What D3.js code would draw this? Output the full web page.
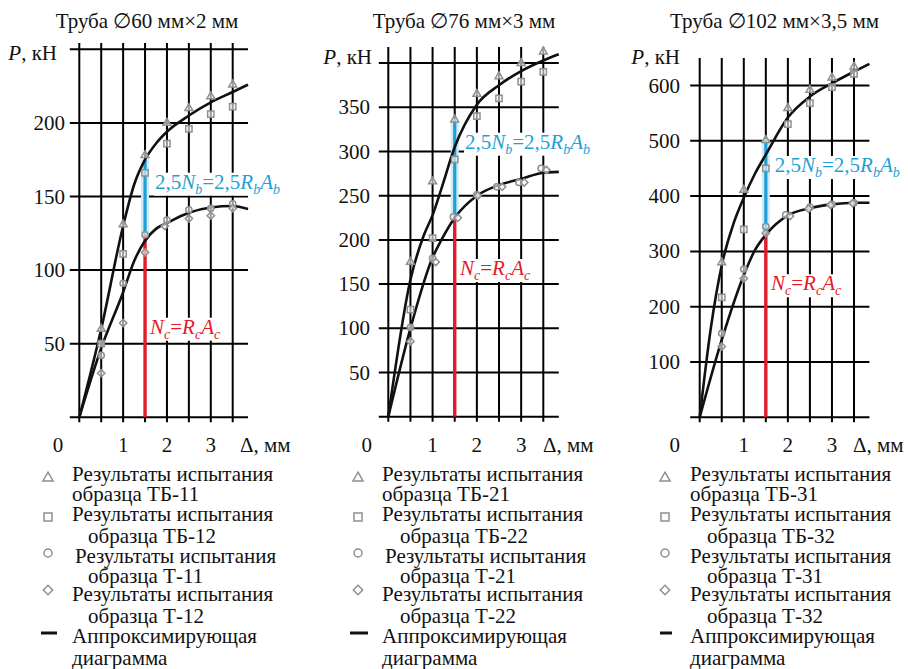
<!DOCTYPE html>
<html><head><meta charset="utf-8">
<script src="https://cdn.jsdelivr.net/npm/d3@7"></script>
<style>
body{margin:0;background:#fff}
svg{display:block}
</style>
</head><body>
<svg id="c" width="908" height="669" font-family="Liberation Serif"></svg>
<script>
// ---------------- DATA ----------------
const titles = ["Труба \u220560 мм\u00d72 мм", "Труба \u220576 мм\u00d73 мм", "Труба \u2205102 мм\u00d73,5 мм"];
const xGridValues = [0, 0.5, 1, 1.5, 2, 2.5, 3, 3.5];
const xTickValues = [0, 1, 2, 3];
const xAxisLabel = "\u0394, мм";
const yAxisUnit = ", кН";

const yGrid1 = [0, 50, 100, 150, 200, 250];
const yTicks1 = [50, 100, 150, 200];
const yGrid2 = [0, 50, 100, 150, 200, 250, 300, 350, 400];
const yTicks2 = [50, 100, 150, 200, 250, 300, 350];
const yGrid3 = [0, 100, 200, 300, 400, 500, 600];
const yTicks3 = [100, 200, 300, 400, 500, 600];

// approximating curves  [Δ, P]
const upper1 = [[0,0],[0.5,60],[1,130],[1.25,158],[1.5,175],[1.75,186],[2,194],[2.5,205],[3,214],[3.5,221],[3.85,226]];
const lower1 = [[0,0],[0.5,47],[1,85],[1.25,106],[1.5,120],[1.75,128],[2,132],[2.5,139],[3,142.5],[3.5,143.5],[3.85,141.5]];
const upper2 = [[0,0],[0.5,155],[0.8,205],[1,228],[1.2,258],[1.5,305],[2,353],[2.5,375],[3,391],[3.5,403],[3.85,410]];
const lower2 = [[0,0],[0.5,100],[1,180],[1.2,200],[1.5,225],[2,250],[2.5,262],[3,269],[3.5,276],[3.85,277]];
const upper3 = [[0,0],[0.25,160],[0.5,275],[0.77,351],[1,397],[1.25,440],[1.5,475],[2,542],[2.5,580],[3,604],[3.5,625],[3.85,639]];
const lower3 = [[0,0],[0.5,140],[1,257],[1.25,302],[1.5,330],[2,365],[2.5,378],[3,385],[3.5,388],[3.85,388]];

// test results  [Δ, P]
const tri1 = [[0.5,60],[1,131],[1.5,178],[2,200],[2.5,210],[3,218],[3.5,226]];
const sq1  = [[0.5,50],[1,111],[1.5,166],[2,186],[2.5,196],[3,206],[3.5,211]];
const circ1 = [[0.5,42],[1,91],[1.5,124],[2,134],[2.5,141],[3,142],[3.5,145]];
const dia1 = [[0.5,30],[1,64],[1.5,112],[1.95,130],[2.5,135],[3,137],[3.5,142]];

const tri2 = [[0.5,175],[1,266],[1.5,336],[2,365],[2.5,385],[3,400],[3.5,413]];
const sq2  = [[0.5,121],[1,202],[1.5,291],[2,340],[2.5,360],[3,379],[3.5,390]];
const circ2 = [[0.5,101],[1,179],[1.47,226],[2,251],[2.45,260],[2.95,265],[3.45,281]];
const dia2 = [[0.5,85],[1.07,175],[1.57,225],[2.02,250],[2.57,260],[3.07,265],[3.57,279]];

const tri3 = [[0.5,280],[1,411],[1.5,501],[2,559],[2.5,592],[3,614],[3.5,634]];
const sq3  = [[0.5,217],[1,340],[1.5,450],[2,530],[2.5,568],[3,597],[3.5,621]];
const circ3 = [[0.5,152],[1,268],[1.5,345],[1.95,366],[2.5,380],[3,385],[3.5,388]];
const dia3 = [[0.5,128],[1,251],[1.5,333],[2.05,364],[2.47,377],[2.97,384],[3.47,387]];

// limit lines at Δ = 1.5 mm
const limitDelta = 1.5;
const ncValues = [124, 226, 331];      // N_c = R_c A_c
const nbValues = [175, 336, 503];      // 2,5 N_b = 2,5 R_b A_b

// legend
const specTB1 = ["ТБ-11", "ТБ-21", "ТБ-31"];
const specTB2 = ["ТБ-12", "ТБ-22", "ТБ-32"];
const specT1 = ["Т-11", "Т-21", "Т-31"];
const specT2 = ["Т-12", "Т-22", "Т-32"];
const legendResult = "Результаты испытания";
const legendSample = "образца ";
const legendApprox = ["Аппроксимирующая", "диаграмма"];

// ---------------- LAYOUT ----------------
const layout = [
  {x0:79.3, x35:232.7, y0:417.3, yMax:250, yMaxPx:49.3, vTop:43, titleX:147, tickR:65, pR:57, pY:53, zeroX:58, deltaX:240,
   blue:[155,181.7], red:[150,326.7], leg:{mx:48, tx:72, ix:88, t3:3, dash:[41,57]}},
  {x0:388.3, x35:543.3, y0:416.7, yMax:400, yMaxPx:63.1, vTop:47, titleX:464, tickR:370, pR:372, pY:57, zeroX:366.7, deltaX:543,
   blue:[465,141.7], red:[460,268], leg:{mx:358, tx:382, ix:400, t3:3, dash:[350,368]}},
  {x0:699.7, x35:854, y0:417.3, yMax:600, yMaxPx:85.5, vTop:58, titleX:774.5, tickR:680, pR:680, pY:57, zeroX:674.7, deltaX:853,
   blue:[774.7,165], red:[771,283.3], leg:{mx:665, tx:690, ix:707, t3:0, dash:[660,672]}}
];
const grids = [yGrid1, yGrid2, yGrid3];
const ticks = [yTicks1, yTicks2, yTicks3];
const uppers = [upper1, upper2, upper3];
const lowers = [lower1, lower2, lower3];
const pts = [[tri1,sq1,circ1,dia1],[tri2,sq2,circ2,dia2],[tri3,sq3,circ3,dia3]];

const svg = d3.select("#c");
const FS = 21;
const TXT = "#111";
const BLUE = "#1f9fd5", RED = "#e31b2a", GRAY = "#8f8f8f";

function txt(g, x, y, s) {
  return g.append("text").attr("x", x).attr("y", y).attr("font-size", FS)
    .attr("font-family", "Liberation Serif").attr("fill", TXT).text(s);
}

function marker(g, type, x, y, s) {
  let path;
  if (type === 0) path = d3.symbol(d3.symbolTriangle, s*s*0.55)();
  else if (type === 1) path = d3.symbol(d3.symbolSquare, s*s*0.8)();
  else if (type === 2) path = d3.symbol(d3.symbolCircle, s*s*0.62)();
  else path = d3.symbol(d3.symbolSquare, s*s*0.55)();
  g.append("path").attr("d", path)
    .attr("transform", `translate(${x},${y})` + (type === 3 ? " rotate(45)" : ""))
    .attr("fill", "#fff").attr("fill-opacity", 0.6)
    .attr("stroke", GRAY).attr("stroke-width", 1.5);
}

function formula(g, x, yc, parts, color) {
  const t = g.append("text").attr("x", x).attr("y", yc + 7).attr("font-size", FS)
    .attr("font-family", "Liberation Serif").attr("fill", color);
  let sub = false;
  parts.forEach(p => {
    const ts = t.append("tspan").text(p.t);
    if (p.i) ts.attr("font-style", "italic");
    if (p.s && !sub) { ts.attr("dy", 5).attr("font-size", 14); sub = true; }
    else if (p.s) { ts.attr("font-size", 14); }
    else if (sub) { ts.attr("dy", -5); sub = false; }
  });
  const bb = t.node().getBBox();
  g.insert("rect", function(){ return t.node(); })
    .attr("x", bb.x - 1).attr("y", bb.y + 3).attr("width", bb.width + 2).attr("height", bb.height - 4)
    .attr("fill", "#fff");
}

layout.forEach((L, i) => {
  const g = svg.append("g");
  const x = d3.scaleLinear().domain([0, 3.5]).range([L.x0, L.x35]);
  const y = d3.scaleLinear().domain([0, L.yMax]).range([L.y0, L.yMaxPx]);

  // title
  txt(g, L.titleX, 27.5, titles[i]).attr("text-anchor", "middle");

  // grid
  g.selectAll(".h").data(grids[i]).join("line")
    .attr("x1", x(0) - 9.5).attr("x2", x(3.85))
    .attr("y1", d => y(d)).attr("y2", d => y(d))
    .attr("stroke", "#000").attr("stroke-width", 2);
  g.selectAll(".v").data(xGridValues).join("line")
    .attr("x1", d => x(d)).attr("x2", d => x(d))
    .attr("y1", L.vTop).attr("y2", L.y0 + 5)
    .attr("stroke", "#000").attr("stroke-width", 2);

  // y tick labels
  ticks[i].forEach(d => txt(g, L.tickR, y(d) + 7, d).attr("text-anchor", "end"));
  const pl = txt(g, L.pR, L.pY + 7, "").attr("text-anchor", "end");
  pl.append("tspan").attr("font-style", "italic").text("P");
  pl.append("tspan").text(yAxisUnit);

  // x tick labels
  xTickValues.forEach(d => txt(g, d === 0 ? L.zeroX : x(d), 451.5, d).attr("text-anchor", "middle"));
  txt(g, L.deltaX, 451.5, xAxisLabel);

  // limit lines
  g.append("line").attr("x1", x(limitDelta)).attr("x2", x(limitDelta))
    .attr("y1", y(ncValues[i])).attr("y2", y(nbValues[i]))
    .attr("stroke", "#cdebf7").attr("stroke-width", 8);
  g.append("line").attr("x1", x(limitDelta)).attr("x2", x(limitDelta))
    .attr("y1", y(ncValues[i])).attr("y2", y(nbValues[i]))
    .attr("stroke", BLUE).attr("stroke-width", 3.2);
  g.append("line").attr("x1", x(limitDelta)).attr("x2", x(limitDelta))
    .attr("y1", y(0)).attr("y2", y(ncValues[i]))
    .attr("stroke", RED).attr("stroke-width", 3.4);

  // curves
  const line = d3.line().x(d => x(d[0])).y(d => y(d[1])).curve(d3.curveMonotoneX);
  [uppers[i], lowers[i]].forEach(c => {
    g.append("path").attr("d", line(c)).attr("fill", "none")
      .attr("stroke", "#111").attr("stroke-width", 2.6);
  });

  // markers
  pts[i].forEach((arr, t) => {
    arr.forEach(d => marker(g, t, x(d[0]), y(d[1]), 7));
  });

  // formula labels
  formula(g, L.blue[0], L.blue[1], [
    {t:"2,5"},{t:"N",i:1},{t:"b",i:1,s:1},{t:"=2,5"},{t:"R",i:1},{t:"b",i:1,s:1},{t:"A",i:1},{t:"b",i:1,s:1}
  ], BLUE);
  formula(g, L.red[0], L.red[1], [
    {t:"N",i:1},{t:"c",i:1,s:1},{t:"="},{t:"R",i:1},{t:"c",i:1,s:1},{t:"A",i:1},{t:"c",i:1,s:1}
  ], RED);

  // legend
  const lg = L.leg;
  const rows = [
    {m:0, my:478, lines:[[lg.tx,474,legendResult],[lg.tx,494,legendSample + specTB1[i]]]},
    {m:1, my:517, lines:[[lg.tx,514,legendResult],[lg.ix,536,legendSample + specTB2[i]]]},
    {m:2, my:553, lines:[[lg.tx + lg.t3,555.5,legendResult],[lg.ix,575.5,legendSample + specT1[i]]]},
    {m:3, my:590, lines:[[lg.tx,593.5,legendResult],[lg.ix,616,legendSample + specT2[i]]]},
  ];
  rows.forEach(r => {
    marker(g, r.m, lg.mx, r.my, 9);
    r.lines.forEach(l => txt(g, l[0], l[1] + 7, l[2]));
  });
  g.append("line").attr("x1", lg.dash[0]).attr("x2", lg.dash[1]).attr("y1", 633).attr("y2", 633)
    .attr("stroke", "#111").attr("stroke-width", 3);
  txt(g, lg.tx, 636 + 7, legendApprox[0]);
  txt(g, lg.tx, 657.5 + 7, legendApprox[1]);
});
</script>
</body></html>
